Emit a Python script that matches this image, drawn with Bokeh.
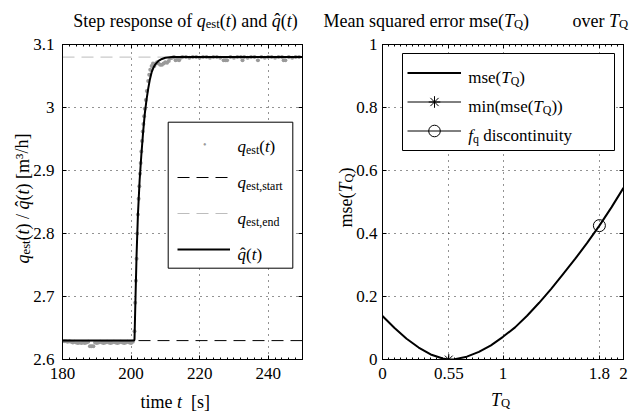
import math
from bokeh.plotting import figure
from bokeh.layouts import row
from bokeh.models import (Range1d, LinearAxis, FixedTicker, Legend, LegendItem,
                          CustomJSTickFormatter, ColumnDataSource, BoxAnnotation)
from bokeh.core.properties import value
from bokeh.embed import file_html
from bokeh.resources import INLINE

# ---------------- data: left panel (step response) ----------------
t_span = [180, 250]
q_start = 2.63
q_end = 3.08

t_hat = [180.0, 200.9, 201.0, 201.3, 201.6, 202.0, 202.5, 203.0, 203.5, 204.0, 204.5,
         205.0, 205.5, 206.0, 206.5, 207.0, 208.0, 209.0, 210.0, 212.0, 215.0, 250.0]
q_hat = [2.630, 2.630, 2.632, 2.700, 2.765, 2.830, 2.885, 2.925, 2.960, 2.990, 3.012,
         3.030, 3.045, 3.056, 3.063, 3.068, 3.074, 3.077, 3.079, 3.080, 3.080, 3.080]

t_est = [180.5, 181.0, 181.5, 182.0, 182.5, 183.0, 183.5, 184.0, 184.5, 185.0, 185.5,
         186.0, 186.5, 187.0, 187.5, 188.0, 188.5, 189.0, 189.5, 190.0, 190.5, 191.0,
         191.5, 192.0, 192.5, 193.0, 193.5, 194.0, 194.5, 195.0, 195.5, 196.0, 196.5,
         197.0, 197.5, 198.0, 198.5, 199.0, 199.5, 200.0, 200.5,
         201.0, 201.2, 201.4, 201.6, 201.8, 202.0, 202.2, 202.4, 202.6, 202.8, 203.0,
         203.2, 203.4, 203.6, 203.8, 204.0, 204.3, 204.6, 205.0, 205.3, 205.6, 206.0,
         206.4, 206.8, 207.2, 207.6, 208.0, 208.5, 209.0, 209.5, 210.0, 210.5, 211.0,
         211.5, 212.0, 212.5, 213.0, 213.5, 214.0, 214.5, 215.0, 216.0, 217.0, 218.0,
         219.0, 220.0, 221.0, 222.0, 223.0, 224.0, 225.0, 226.0, 227.0, 227.5, 228.0,
         229.0, 230.0, 231.0, 232.0, 232.5, 233.0, 234.0, 235.0, 236.0, 237.0, 238.0,
         239.0, 240.0, 241.0, 242.0, 243.0, 244.0, 244.5, 245.0, 246.0, 247.0, 248.0,
         249.0]
q_est = [2.629, 2.629, 2.628, 2.629, 2.628, 2.627, 2.628, 2.627, 2.626, 2.627, 2.626,
         2.627, 2.626, 2.627, 2.628, 2.621, 2.621, 2.621, 2.627, 2.626, 2.627, 2.628,
         2.627, 2.626, 2.627, 2.628, 2.627, 2.626, 2.627, 2.628, 2.627, 2.626, 2.627,
         2.628, 2.627, 2.626, 2.627, 2.628, 2.627, 2.626, 2.628,
         2.645, 2.690, 2.725, 2.760, 2.800, 2.830, 2.855, 2.875, 2.895, 2.912, 2.930,
         2.947, 2.962, 2.974, 2.986, 2.998, 3.012, 3.026, 3.042, 3.052, 3.060, 3.066,
         3.070, 3.066, 3.070, 3.072, 3.070, 3.068, 3.068, 3.070, 3.072, 3.071, 3.074,
         3.078, 3.079, 3.080, 3.075, 3.076, 3.075, 3.079, 3.080, 3.080, 3.079, 3.080,
         3.080, 3.079, 3.080, 3.080, 3.079, 3.080, 3.080, 3.079, 3.075, 3.075, 3.075,
         3.080, 3.079, 3.080, 3.080, 3.075, 3.080, 3.079, 3.080, 3.080, 3.075, 3.080,
         3.079, 3.080, 3.080, 3.079, 3.080, 3.080, 3.075, 3.075, 3.080, 3.079, 3.080,
         3.080]

left_xticks = [180, 200, 220, 240]
left_xlabels = ["180", "200", "220", "240"]
left_yticks = [2.6, 2.7, 2.8, 2.9, 3.0, 3.1]
left_ylabels = ["2.6", "2.7", "2.8", "2.9", "3", "3.1"]

# ---------------- data: right panel (mse) ----------------
TQ = [0.0, 0.1, 0.2, 0.3, 0.4, 0.5, 0.55, 0.6, 0.7, 0.8, 0.9, 1.0, 1.1, 1.2, 1.3,
      1.4, 1.5, 1.6, 1.7, 1.8, 1.9, 2.0]
mse = [0.138, 0.100, 0.066, 0.038, 0.016, 0.003, 0.000, 0.001, 0.009, 0.024, 0.045,
       0.072, 0.102, 0.139, 0.180, 0.224, 0.272, 0.320, 0.371, 0.425, 0.483, 0.545]
TQ_min = [0.55]
mse_min = [0.0]
TQ_disc = [1.8]
mse_disc = [0.425]

right_xticks = [0, 0.55, 1, 1.8, 2]
right_xlabels = ["0", "0.55", "1", "1.8", "2"]
right_yticks = [0, 0.2, 0.4, 0.6, 0.8, 1.0]
right_ylabels = ["0", "0.2", "0.4", "0.6", "0.8", "1"]

# ---------------- styling helpers ----------------
FONT = "Liberation Serif"
TICK_PX = 17
LAB_PX = 18
FIG_H = 414
F_TOP = 44
F_BOT = 359
L_FL, L_FR = 62, 302   # left frame (page px)
R_X0 = 321             # right figure left (page px)
R_FL, R_FR = 382, 623  # right frame (page px)

W_N = {' ': 250, '(': 333, ')': 333, '[': 333, ']': 333, '/': 278, '.': 250, ',': 250,
       'a': 444, 'b': 500, 'c': 444, 'd': 500, 'e': 444, 'f': 333, 'g': 500, 'h': 500,
       'i': 278, 'j': 278, 'k': 500, 'l': 278, 'm': 778, 'n': 500, 'o': 500, 'p': 500,
       'q': 500, 'r': 333, 's': 389, 't': 278, 'u': 500, 'v': 500, 'w': 722, 'x': 500,
       'y': 500, 'z': 444, 'M': 889, 'S': 556, 'T': 611, 'Q': 722, '\u02c6': 333,
       '\u00b3': 300}
for d in "0123456789":
    W_N[d] = 500
W_I = {'q': 500, 't': 278, 'T': 556, 'Q': 722, 'f': 278}


def text_width(text, italic, size):
    tab = W_I if italic else W_N
    return sum(tab.get(c, W_N.get(c, 500)) for c in text) * size / 1000.0


KINDS = {'n': (False, 1.0, 0.0), 'i': (True, 1.0, 0.0), 's': (False, 0.7, -0.22)}


def new_runs():
    return dict(text=[], xo=[], yo=[], ang=[], size=[], style=[], color=[],
                align=[], base=[])


def add_runs(store, frame_left, runs, px, py, size, angle=0.0, align="left", color="black"):
    placed = []
    adv = 0.0
    last = None
    for text, kind in runs:
        if kind == 'hat':
            qx, qw = last
            hw = text_width(text, False, size)
            placed.append((text, False, size, qx + (qw - hw) / 2 + 0.06 * size, 0.04 * size))
            continue
        italic, sc, dy = KINDS[kind]
        s = size * sc
        w = text_width(text, italic, s)
        lead = len(text) - len(text.lstrip(' '))
        body = text.strip(' ')
        if body:
            placed.append((body, italic, s, adv + lead * W_N[' '] * s / 1000.0, dy * size))
        last = (adv, w)
        adv += w
    shift = -adv / 2 if align == "center" else 0.0
    ux, uy = math.cos(angle), -math.sin(angle)
    vx, vy = -math.sin(angle), -math.cos(angle)
    for text, italic, s, a, dy in placed:
        a = a + shift
        X = px + a * ux + dy * vx
        Y = py + a * uy + dy * vy
        store["text"].append(text)
        store["xo"].append(X - frame_left)
        store["yo"].append(Y - F_BOT)
        store["ang"].append(angle)
        store["size"].append(f"{s:.2f}px")
        store["style"].append("italic" if italic else "normal")
        store["color"].append(color)
        store["align"].append("left")
        store["base"].append("alphabetic")


def draw_store(p, store, x0, y0):
    n = len(store["text"])
    src = ColumnDataSource(dict(x=[x0] * n, y=[y0] * n, **store))
    p.text(x="x", y="y", text="text", x_offset="xo", y_offset="yo", angle="ang",
           text_font=value(FONT), text_font_size="size", text_font_style="style",
           text_color="color", text_align="align", text_baseline="base",
           source=src, level="overlay")


def legend_box(p, fl, fr, xr, yr, left, right, top, bottom):
    """white legend background with border, given in page pixels"""
    def dx(px):
        return xr[0] + (px - fl) / (fr - fl) * (xr[1] - xr[0])

    def dy(py):
        return yr[1] - (py - F_TOP) / (F_BOT - F_TOP) * (yr[1] - yr[0])
    p.add_layout(BoxAnnotation(left=dx(left), right=dx(right), top=dy(top), bottom=dy(bottom),
                               fill_color="white", fill_alpha=1, line_color="black",
                               line_width=1, line_alpha=1))


def fmt(tv, tl):
    return CustomJSTickFormatter(args=dict(tv=tv, tl=tl), code="""
        let best = 0, d = Infinity;
        for (let i = 0; i < tv.length; i++) {
            const e = Math.abs(tv[i] - tick);
            if (e < d) { d = e; best = i; }
        }
        return tl[best];""")


def style_axes(p, xticks, xminor, xlabels, yticks, yminor, ylabels, ystandoff, xstandoff):
    xt = FixedTicker(ticks=xticks, minor_ticks=xminor)
    yt = FixedTicker(ticks=yticks, minor_ticks=yminor)
    bx = p.below[0]
    ly = p.left[0]
    bx.ticker = xt
    ly.ticker = yt
    bx.formatter = fmt(xticks, xlabels)
    ly.formatter = fmt(yticks, ylabels)
    ax_top = LinearAxis(ticker=xt, formatter=CustomJSTickFormatter(code="return '';"))
    ax_right = LinearAxis(ticker=yt, formatter=CustomJSTickFormatter(code="return '';"))
    p.add_layout(ax_top, "above")
    p.add_layout(ax_right, "right")
    for ax in (bx, ly, ax_top, ax_right):
        ax.axis_line_color = "black"
        ax.major_tick_line_color = "black"
        ax.minor_tick_line_color = "black"
        ax.major_tick_in = 4
        ax.major_tick_out = 0
        ax.minor_tick_in = 2
        ax.minor_tick_out = 0
        ax.major_label_text_font = FONT
        ax.major_label_text_font_style = "normal"
        ax.major_label_text_font_size = f"{TICK_PX}px"
        ax.major_label_text_color = "black"
    ax_top.major_label_standoff = 0
    ax_right.major_label_standoff = 0
    ly.major_label_standoff = ystandoff
    bx.major_label_standoff = xstandoff
    for g in p.grid:
        g.grid_line_color = "black"
        g.grid_line_alpha = 0.85
        g.grid_line_dash = "1 5"
        g.grid_line_width = 1
    p.outline_line_color = "black"
    p.outline_line_alpha = 1
    p.background_fill_color = "white"
    p.border_fill_color = "white"


LEG_STYLE = dict(orientation="vertical", label_text_font_size="10px", margin=0,
                 label_standoff=4, border_line_alpha=0, background_fill_alpha=0)

# ---------------- left figure ----------------
pl = figure(width=R_X0, height=FIG_H, x_range=Range1d(180, 250), y_range=Range1d(2.6, 3.1),
            output_backend="svg", toolbar_location=None,
            min_border_left=L_FL, min_border_right=R_X0 - L_FR, min_border_top=F_TOP,
            min_border_bottom=FIG_H - F_BOT)

r_est = pl.scatter(t_est, q_est, size=4, color="#9a9a9a", line_color=None)
r_start = pl.line(t_span, [q_start, q_start], line_color="black", line_width=1, line_dash="12 7")
r_end = pl.line(t_span, [q_end, q_end], line_color="#bdbdbd", line_width=1, line_dash="12 7")
r_hat = pl.line(t_hat, q_hat, line_color="black", line_width=2)
r_blank = pl.line([], [], line_alpha=0)

style_axes(pl, left_xticks, list(range(180, 252, 2)), left_xlabels,
           left_yticks, [], left_ylabels, 8, 8)

legend_box(pl, L_FL, L_FR, (180, 250), (2.6, 3.1), 167.7, 292.3, 121.7, 267.7)
leg_l = Legend(items=[LegendItem(label=" ", renderers=[r_blank]),
                      LegendItem(label=" ", renderers=[r_start]),
                      LegendItem(label=" ", renderers=[r_end]),
                      LegendItem(label=" ", renderers=[r_hat])],
               location=(106, 91), label_width=50, label_height=20,
               glyph_width=53, glyph_height=20, spacing=16, padding=9, **LEG_STYLE)
pl.add_layout(leg_l, "center")

TL = new_runs()
add_runs(TL, L_FL, [("\u2022", 'n')], 202.5, 144, 10, color="#9a9a9a")
add_runs(TL, L_FL, [("Step response of ", 'n'), ("q", 'i'), ("est", 's'), ("(", 'n'), ("t", 'i'),
                    (")", 'n'), (" and ", 'n'), ("q", 'i'), ("\u02c6", 'hat'), ("(", 'n'),
                    ("t", 'i'), (")", 'n')], 72.7, 20, LAB_PX)
add_runs(TL, L_FL, [("time ", 'n'), ("t", 'i'), ("  ", 'n'), ("[s]", 'n')], 140, 401, LAB_PX)
add_runs(TL, L_FL, [("q", 'i'), ("est", 's'), ("(", 'n'), ("t", 'i'), (") / ", 'n'),
                    ("q", 'i'), ("\u02c6", 'hat'), ("(", 'n'), ("t", 'i'),
                    (") [m\u00b3/h]", 'n')],
         22, 198, LAB_PX, angle=math.pi / 2, align="center")
LEG_TX = 237
for yb, runs in [(145.5, [("q", 'i'), ("est", 's'), ("(", 'n'), ("t", 'i'), (")", 'n')]),
                 (181.5, [("q", 'i'), ("est,start", 's')]),
                 (217.5, [("q", 'i'), ("est,end", 's')]),
                 (253.5, [("q", 'i'), ("\u02c6", 'hat'), ("(", 'n'), ("t", 'i'), (")", 'n')])]:
    add_runs(TL, L_FL, runs, LEG_TX, yb, TICK_PX)
draw_store(pl, TL, t_span[0], 2.6)

# ---------------- right figure ----------------
pr = figure(width=633 - R_X0, height=FIG_H, x_range=Range1d(0, 2), y_range=Range1d(0, 1),
            output_backend="svg", toolbar_location=None,
            min_border_left=R_FL - R_X0, min_border_right=633 - R_FR, min_border_top=F_TOP,
            min_border_bottom=FIG_H - F_BOT)

r_mse = pr.line(TQ, mse, line_color="black", line_width=2)
r_min = pr.scatter(TQ_min, mse_min, marker="asterisk", size=11, line_color="black",
                   line_width=1)
r_disc = pr.scatter(TQ_disc, mse_disc, marker="circle", size=12, line_color="black",
                    fill_color=None, line_width=1)
r_thin1 = pr.line(TQ_min, mse_min, line_color="black", line_width=1)
r_thin2 = pr.line(TQ_disc, mse_disc, line_color="black", line_width=1)

style_axes(pr, right_xticks, [i * 0.05 for i in range(41)], right_xlabels,
           right_yticks, [], right_ylabels, 5, 8)

legend_box(pr, R_FL, R_FR, (0, 2), (0, 1), 402, 614, 53, 150)
leg_r = Legend(items=[LegendItem(label=" ", renderers=[r_mse]),
                      LegendItem(label=" ", renderers=[r_thin1, r_min]),
                      LegendItem(label=" ", renderers=[r_thin2, r_disc])],
               location=(20, 209), label_width=142, label_height=29,
               glyph_width=54, glyph_height=29, spacing=0, padding=5, **LEG_STYLE)
pr.add_layout(leg_r, "center")

TR = new_runs()
add_runs(TR, R_FL, [("Mean squared error mse(", 'n'), ("T", 'i'), ("Q", 's'), (")", 'n')],
         323, 20, LAB_PX)
add_runs(TR, R_FL, [("over ", 'n'), ("T", 'i'), ("Q", 's')], 572, 20, LAB_PX)
add_runs(TR, R_FL, [("T", 'i'), ("Q", 's')], 500, 399, LAB_PX, align="center")
add_runs(TR, R_FL, [("mse(", 'n'), ("T", 'i'), ("Q", 's'), (")", 'n')],
         345, 197, LAB_PX, angle=math.pi / 2, align="center")
RLEG_TX = 467.7
add_runs(TR, R_FL, [("mse(", 'n'), ("T", 'i'), ("Q", 's'), (")", 'n')], RLEG_TX, 77, TICK_PX)
add_runs(TR, R_FL, [("min(mse(", 'n'), ("T", 'i'), ("Q", 's'), ("))", 'n')], RLEG_TX, 106,
         TICK_PX)
add_runs(TR, R_FL, [("f", 'i'), ("q", 's'), (" discontinuity", 'n')], RLEG_TX, 135, TICK_PX)
draw_store(pr, TR, 0, 0)

layout = row(pl, pr)
open("out.html", "w").write(file_html(layout, INLINE))
